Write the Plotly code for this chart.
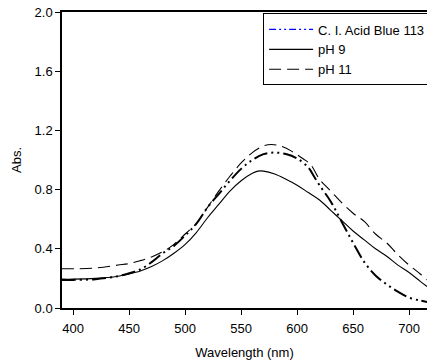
import plotly.graph_objects as go

# Wavelength grids (nm)
wl_blue = [390, 400, 420, 440, 450, 460, 470, 480, 490, 500, 510, 520, 530, 540, 550, 560, 570, 580,
           590, 600, 610, 615, 620, 630, 640, 650, 660, 670, 680, 690, 700, 710, 716]
abs_blue = [0.19, 0.19, 0.195, 0.215, 0.235, 0.26, 0.31, 0.37, 0.42, 0.49, 0.57, 0.68, 0.77, 0.86,
            0.94, 1.00, 1.04, 1.05, 1.04, 1.01, 0.95, 0.89, 0.83, 0.72, 0.58, 0.44, 0.31, 0.22,
            0.16, 0.11, 0.07, 0.05, 0.04]

wl_ph9 = [390, 400, 420, 440, 450, 460, 470, 480, 490, 500, 510, 520, 530, 540, 550, 560, 565, 570,
          580, 590, 600, 610, 620, 630, 640, 650, 660, 670, 680, 690, 700, 710, 716]
abs_ph9 = [0.195, 0.195, 0.20, 0.215, 0.23, 0.25, 0.28, 0.32, 0.37, 0.43, 0.51, 0.61, 0.70, 0.79,
           0.86, 0.91, 0.925, 0.925, 0.905, 0.87, 0.83, 0.78, 0.73, 0.66, 0.59, 0.52, 0.46, 0.40,
           0.35, 0.29, 0.24, 0.18, 0.145]

wl_ph11 = [390, 400, 420, 440, 450, 460, 470, 480, 490, 500, 510, 520, 530, 540, 550, 560, 570, 577,
           585, 595, 605, 612, 620, 630, 640, 650, 660, 670, 680, 690, 700, 710, 716]
abs_ph11 = [0.265, 0.265, 0.27, 0.29, 0.30, 0.32, 0.345, 0.38, 0.43, 0.50, 0.57, 0.68, 0.79, 0.89,
            0.98, 1.05, 1.095, 1.105, 1.095, 1.06, 1.01, 0.97, 0.87, 0.79, 0.71, 0.64, 0.585, 0.50,
            0.44, 0.36, 0.29, 0.23, 0.19]

x_ticks = [400, 450, 500, 550, 600, 650, 700]
y_ticks = [0.0, 0.4, 0.8, 1.2, 1.6, 2.0]

FONT = "Liberation Sans, Arial, sans-serif"

fig = go.Figure()

# legend-only entry for dye (blue in legend)
fig.add_trace(go.Scatter(x=[None], y=[None], mode="lines", name="C. I. Acid Blue 113",
                         line=dict(color="#0000ff", width=1.3, dash="7px,3px,2px,3px,2px,3px")))
fig.add_trace(go.Scatter(x=wl_ph9, y=abs_ph9, mode="lines", name="pH 9", line_shape="spline",
                         line=dict(color="black", width=1.1)))
fig.add_trace(go.Scatter(x=wl_ph11, y=abs_ph11, mode="lines", name="pH 11", line_shape="spline",
                         line=dict(color="black", width=1.1, dash="12px,6px")))
fig.add_trace(go.Scatter(x=wl_blue, y=abs_blue, mode="lines", name="C. I. Acid Blue 113",
                         showlegend=False, line_shape="spline",
                         line=dict(color="black", width=2, dash="14px,4px,2px,4px,2px,4px")))

fig.update_layout(
    width=427, height=360,
    margin=dict(l=62, r=0, t=12, b=52, autoexpand=False),
    paper_bgcolor="white", plot_bgcolor="white",
    font=dict(family=FONT, size=13, color="black"),
    showlegend=True,
    legend=dict(x=0.551, y=0.995, xanchor="left", yanchor="top",
                bgcolor="white", bordercolor="black", borderwidth=1,
                font=dict(family=FONT, size=13, color="black"),
                itemwidth=44, tracegroupgap=0),
    xaxis=dict(range=[390, 716], tickvals=x_ticks, ticks="outside", ticklen=5, tickwidth=1,
               tickcolor="black", showline=True, linecolor="black", linewidth=1.5, mirror=True,
               showgrid=False, zeroline=False, automargin=False, ticklabelstandoff=3,
               ticklabeloverflow="allow",
               title=dict(text="Wavelength (nm)", font=dict(size=13), standoff=14),
               tickfont=dict(size=13)),
    yaxis=dict(range=[0, 2], tickvals=y_ticks, tickformat=".1f", ticks="outside", ticklen=5,
               tickwidth=1, tickcolor="black", showline=True, linecolor="black", linewidth=1.5,
               mirror=False, showgrid=False, zeroline=False, automargin=False,
               ticklabeloverflow="allow",
               title=dict(text="Abs.", font=dict(size=13), standoff=10),
               tickfont=dict(size=13)),
)

fig.write_html(
    "out.html",
    config={"displayModeBar": False},
    post_script="document.body.style.margin='0px';document.body.style.overflow='hidden';",
)
